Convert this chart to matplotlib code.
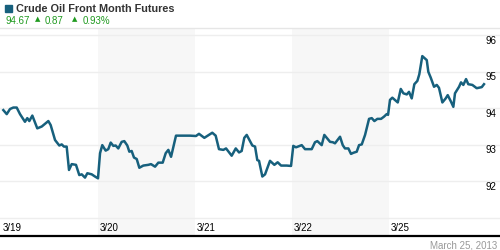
import matplotlib
matplotlib.use('Agg')
import matplotlib.pyplot as plt
import matplotlib.transforms as mtransforms

plt.rcParams['font.family'] = ['Liberation Sans', 'DejaVu Sans']

# time in trading days since the 3/19 open, price in USD
times = [
    0.024, 0.059, 0.093, 0.127, 0.162, 0.196, 0.247, 0.271, 0.292, 0.323,
    0.374, 0.420, 0.488, 0.512, 0.557, 0.601, 0.626, 0.649, 0.677, 0.701,
    0.729, 0.773, 0.807, 0.832, 0.866, 0.890, 0.935, 0.969, 1.000, 1.021,
    1.044, 1.079, 1.106, 1.131, 1.158, 1.182, 1.209, 1.244, 1.271, 1.302,
    1.323, 1.347, 1.371, 1.399, 1.426, 1.467, 1.519, 1.546, 1.588, 1.622,
    1.667, 1.698, 1.725, 1.753, 1.804, 1.863, 1.948, 2.010, 2.041, 2.096,
    2.131, 2.178, 2.213, 2.247, 2.292, 2.320, 2.378, 2.420, 2.454, 2.481,
    2.508, 2.533, 2.591, 2.619, 2.642, 2.660, 2.694, 2.722, 2.773, 2.818,
    2.852, 2.887, 2.945, 2.990, 3.013, 3.041, 3.100, 3.134, 3.203, 3.237,
    3.261, 3.306, 3.333, 3.358, 3.392, 3.420, 3.443, 3.495, 3.523, 3.546,
    3.581, 3.608, 3.632, 3.667, 3.691, 3.719, 3.753, 3.794, 3.822, 3.849,
    3.880, 3.918, 3.948, 3.976, 3.990, 4.010, 4.034, 4.090, 4.121, 4.148,
    4.183, 4.206, 4.234, 4.261, 4.292, 4.312, 4.343, 4.389, 4.405, 4.430,
    4.464, 4.492, 4.515, 4.550, 4.584, 4.605, 4.639, 4.663, 4.680, 4.722,
    4.742, 4.766, 4.794, 4.817, 4.859, 4.904, 4.956, 4.979,
]
prices = [
    93.95, 93.84, 93.98, 94.02, 94.02, 93.84, 93.63, 93.73, 93.65, 93.80,
    93.45, 93.50, 93.65, 93.54, 93.13, 92.98, 93.01, 92.95, 92.95, 92.31,
    92.47, 92.45, 92.17, 92.19, 92.10, 92.22, 92.19, 92.13, 92.08, 92.77,
    92.99, 92.84, 92.88, 93.06, 92.97, 92.98, 92.90, 93.08, 93.10, 92.98,
    92.81, 92.83, 92.65, 92.61, 92.37, 92.43, 92.45, 92.47, 92.40, 92.51,
    92.51, 92.77, 92.86, 92.67, 93.25, 93.25, 93.25, 93.24, 93.30, 93.19,
    93.25, 93.33, 93.25, 92.88, 92.86, 92.90, 92.70, 92.90, 92.79, 92.83,
    93.19, 93.27, 92.98, 92.95, 92.58, 92.56, 92.13, 92.19, 92.56, 92.45,
    92.52, 92.43, 92.43, 92.42, 92.97, 92.93, 92.99, 92.88, 92.88, 93.07,
    93.10, 92.99, 93.27, 93.19, 93.08, 93.07, 93.04, 93.22, 92.99, 92.90,
    92.90, 92.75, 92.78, 92.81, 92.99, 93.01, 93.27, 93.71, 93.73, 93.65,
    93.71, 93.71, 93.77, 93.84, 93.82, 94.23, 94.29, 94.16, 94.53, 94.41,
    94.38, 94.45, 94.27, 94.66, 94.75, 94.93, 95.43, 95.32, 95.00, 94.84,
    94.59, 94.64, 94.56, 94.16, 94.27, 94.36, 94.18, 94.04, 94.41, 94.59,
    94.71, 94.64, 94.80, 94.66, 94.64, 94.55, 94.58, 94.66,
]
day_labels = ['3/19', '3/20', '3/21', '3/22', '3/25']
shaded_days = [1, 3]
price_ticks = [92, 93, 94, 95, 96]
grid_levels = [91, 92, 93, 94, 95, 96]

line_color = '#17607d'
green = '#1f9a1f'

fig = plt.figure(figsize=(5, 2.5), dpi=100)
ax = fig.add_axes([0, 0.056, 1, 0.832])
ax.set_xlim(-0.0103, 5.144)
ax.set_ylim(90.50, 96.20)

for d in shaded_days:
    ax.axvspan(d, d + 1, color='#f7f7f7', lw=0, zorder=0)
for g in grid_levels:
    ax.axhline(g, color='#eeeeee', lw=1, zorder=1)

ax.plot(times, prices, color=line_color, lw=1.8, zorder=3,
        solid_joinstyle='round')

ax.set_xticks([])
ax.set_yticks([])
for side in ['left', 'right']:
    ax.spines[side].set_visible(False)
ax.spines['top'].set_color('#e6e6e6')
ax.spines['top'].set_linewidth(1)
ax.spines['bottom'].set_color('black')
ax.spines['bottom'].set_linewidth(1.6)

# y labels sit just under their gridlines, at the right edge
ytrans = mtransforms.blended_transform_factory(ax.transAxes, ax.transData)
for p in price_ticks:
    ax.text(0.97, p - 0.155, str(p), transform=ytrans, ha='left',
            va='center', fontsize=7, color='black')

xtrans = mtransforms.blended_transform_factory(ax.transData, ax.transAxes)
for i, lab in enumerate(day_labels):
    ax.text(i + 0.02, 0.038, lab, transform=xtrans, ha='left',
            va='center', fontsize=7, color='black')

# header
fig.patches.append(plt.Rectangle((5 / 500, 1 - 11.7 / 250), 6.7 / 500,
                                 6.7 / 250, transform=fig.transFigure,
                                 color=line_color))
fig.text(16 / 500, 1 - 8.5 / 250, 'Crude Oil Front Month Futures',
         fontsize=7.8, fontweight='bold', color='#333333', va='center')
fig.text(5 / 500, 1 - 20.5 / 250, '94.67', fontsize=7, color=green,
         va='center')
fig.text(34.5 / 500, 1 - 19.5 / 250, '\u25b2', fontsize=5, color=green,
         va='center', family=['DejaVu Sans'])
fig.text(44.5 / 500, 1 - 20.5 / 250, '0.87', fontsize=7, color=green,
         va='center')
fig.text(72 / 500, 1 - 19.5 / 250, '\u25b2', fontsize=5, color=green,
         va='center', family=['DejaVu Sans'])
fig.text(82.5 / 500, 1 - 20.5 / 250, '0.93%', fontsize=7, color=green,
         va='center')

fig.text(497 / 500, 1 - 245 / 250, 'March 25, 2013', fontsize=7,
         color='#999999', ha='right', va='center')

fig.savefig('out.png', dpi=100)
